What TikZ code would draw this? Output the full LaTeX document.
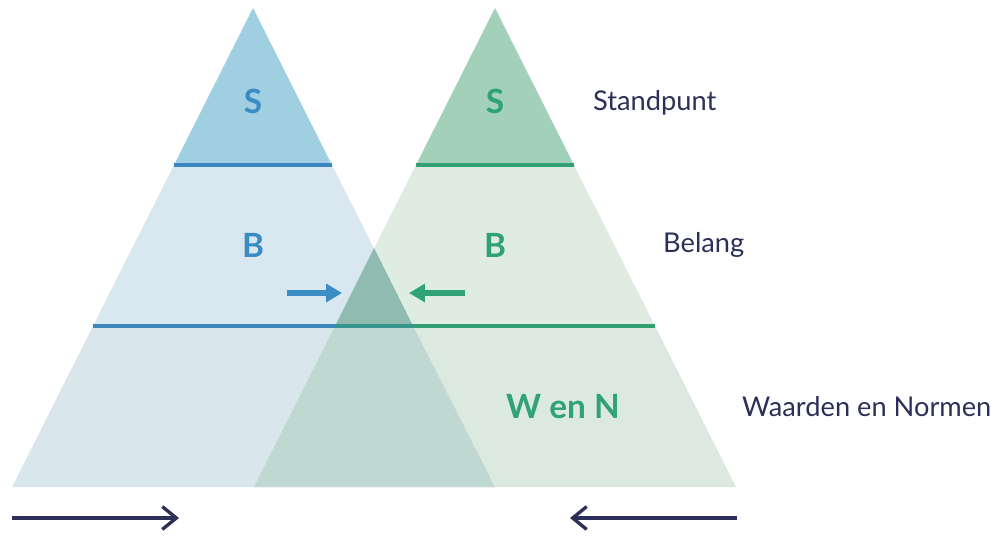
\documentclass[tikz,border=0pt]{standalone}
\usepackage{fontspec}
\setmainfont{Lato}
\usetikzlibrary{arrows.meta}

\definecolor{bluetop}{HTML}{9FCFE1}
\definecolor{bluemid}{HTML}{D9E7F0}
\definecolor{bluelow}{HTML}{D9E6EC}
\definecolor{greentop}{HTML}{A2D0B9}
\definecolor{greenmid}{HTML}{DFECE2}
\definecolor{greenlow}{HTML}{DCE9E1}
\definecolor{overmid}{HTML}{8FBBB0}
\definecolor{overlow}{HTML}{BFD8D2}
\definecolor{blueline}{HTML}{3D86BE}
\definecolor{greenline}{HTML}{33A072}
\definecolor{bluetext}{HTML}{3A8CC5}
\definecolor{greentext}{HTML}{2FA276}
\definecolor{navy}{HTML}{2C3059}

\tikzset{
  layer/.style={line width=2.5pt},
  letter/.style={font=\fontsize{19}{21}\selectfont\bfseries},
  caption/.style={navy, anchor=west, font=\fontsize{15.5}{18}\selectfont},
  push/.style={line width=3pt, -{Triangle[length=9pt,width=10pt]}},
  drift/.style={navy, line width=1.9pt, -{Straight Barb[length=8pt,width=13pt,line width=1.9pt]}}
}

\begin{document}
\begin{tikzpicture}[x=0.02cm, y=-0.02cm]
\useasboundingbox (0,0) rectangle (1000,535);
% left pyramid
\fill[bluetop] (253,8) -- (332,165) -- (174,165) -- cycle;
\fill[bluemid] (174,165) -- (332,165) -- (413,326) -- (93,326) -- cycle;
\fill[bluelow] (93,326) -- (413,326) -- (495,487) -- (12,487) -- cycle;
% right pyramid
\fill[greentop] (495,8) -- (574,165) -- (416,165) -- cycle;
\fill[greenmid] (416,165) -- (574,165) -- (655,326) -- (335,326) -- cycle;
\fill[greenlow] (335,326) -- (655,326) -- (736,487) -- (254,487) -- cycle;
% overlap
\fill[overmid] (374,248) -- (413,326) -- (335,326) -- cycle;
\fill[overlow] (335,326) -- (413,326) -- (495,487) -- (254,487) -- cycle;
% layer lines
\draw[layer, blueline] (174,165) -- (332,165);
\draw[layer, greenline] (416,165) -- (574,165);
\draw[layer, blueline] (93,326) -- (413,326);
\draw[layer, greenline, opacity=0.6] (335,326) -- (655,326);
\draw[layer, greenline] (413,326) -- (655,326);

\node (sl) [letter, bluetext] at (253,101) {S};
\node (bl) [letter, bluetext] at (253,245) {B};
\node (sr) [letter, greentext] at (495,101) {S};
\node (br) [letter, greentext] at (495,245) {B};
\node (wn) [letter, greentext] at (563,407) {W en N};

\node (stand) [caption] at (587,103) {Standpunt};
\node (belang) [caption] at (657,245) {Belang};
\node (waard) [caption] at (736,407) {Waarden en Normen};

\coordinate (pl1) at (287,293);
\coordinate (pl2) at (342,293);
\coordinate (pr1) at (465,293);
\coordinate (pr2) at (409,293);
\draw[push, bluetext] (pl1) -- (pl2);
\draw[push, greentext] (pr1) -- (pr2);

\coordinate (dl1) at (12,518);
\coordinate (dl2) at (179,518);
\coordinate (dr1) at (737,518);
\coordinate (dr2) at (570,518);
\draw[drift] (dl1) -- (dl2);
\draw[drift] (dr1) -- (dr2);
\end{tikzpicture}
\end{document}
